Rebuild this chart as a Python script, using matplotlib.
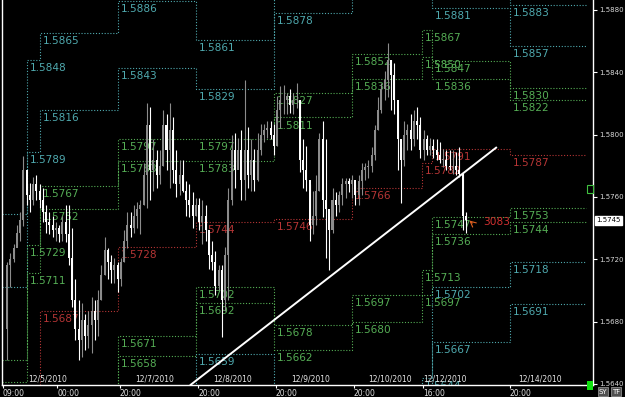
import matplotlib
matplotlib.use("Agg")
import matplotlib.pyplot as plt
import matplotlib.transforms as mtransforms

# ---- hourly candles (GBPUSD-like), left to right ----
first_open = 1.5675
highs = [1.5718, 1.5724, 1.5730, 1.5742, 1.5750, 1.5786, 1.5768, 1.5769, 1.5773, 1.5774,
         1.5768, 1.5766, 1.5755, 1.5750, 1.5748, 1.5744, 1.5742, 1.5748, 1.5755, 1.5755,
         1.5740, 1.5707, 1.5694, 1.5692, 1.5685, 1.5687, 1.5696, 1.5694, 1.5700, 1.5716,
         1.5734, 1.5727, 1.5723, 1.5721, 1.5718, 1.5721, 1.5739, 1.5750, 1.5750, 1.5755,
         1.5757, 1.5758, 1.5782, 1.5820, 1.5818, 1.5797, 1.5790, 1.5790, 1.5816, 1.5813,
         1.5820, 1.5811, 1.5790, 1.5784, 1.5784, 1.5770, 1.5768, 1.5763, 1.5759, 1.5759,
         1.5758, 1.5755, 1.5737, 1.5732, 1.5725, 1.5716, 1.5716, 1.5728, 1.5766, 1.5800,
         1.5801, 1.5798, 1.5803, 1.5835, 1.5805, 1.5797, 1.5791, 1.5801, 1.5807, 1.5807,
         1.5809, 1.5809, 1.5807, 1.5825, 1.5831, 1.5832, 1.5827, 1.5829, 1.5827, 1.5833,
         1.5822, 1.5797, 1.5793, 1.5768, 1.5764, 1.5774, 1.5801, 1.5809, 1.5797, 1.5748,
         1.5766, 1.5763, 1.5764, 1.5772, 1.5772, 1.5772, 1.5774, 1.5768, 1.5774, 1.5782,
         1.5782, 1.5784, 1.5792, 1.5806, 1.5824, 1.5833, 1.5841, 1.5859, 1.5848, 1.5846,
         1.5816, 1.5792, 1.5809, 1.5807, 1.5813, 1.5816, 1.5818, 1.5811, 1.5803, 1.5800,
         1.5798, 1.5797, 1.5797, 1.5795, 1.5791, 1.5790, 1.5790, 1.5790, 1.5789, 1.5792,
         1.5775, 1.5750]
lows = [1.5655, 1.5702, 1.5718, 1.5729, 1.5732, 1.5741, 1.5755, 1.5750, 1.5755, 1.5758,
        1.5753, 1.5744, 1.5737, 1.5736, 1.5734, 1.5732, 1.5731, 1.5732, 1.5731, 1.5716,
        1.5689, 1.5668, 1.5655, 1.5657, 1.5662, 1.5663, 1.5660, 1.5668, 1.5671, 1.5694,
        1.5710, 1.5707, 1.5705, 1.5705, 1.5699, 1.5703, 1.5718, 1.5727, 1.5734, 1.5737,
        1.5740, 1.5736, 1.5755, 1.5753, 1.5758, 1.5764, 1.5766, 1.5768, 1.5780, 1.5777,
        1.5766, 1.5769, 1.5760, 1.5761, 1.5763, 1.5748, 1.5747, 1.5740, 1.5748, 1.5739,
        1.5730, 1.5732, 1.5714, 1.5713, 1.5697, 1.5700, 1.5670, 1.5687, 1.5694, 1.5755,
        1.5766, 1.5784, 1.5758, 1.5758, 1.5766, 1.5764, 1.5764, 1.5770, 1.5787, 1.5795,
        1.5798, 1.5797, 1.5787, 1.5793, 1.5804, 1.5813, 1.5813, 1.5814, 1.5813, 1.5817,
        1.5776, 1.5766, 1.5764, 1.5732, 1.5736, 1.5742, 1.5764, 1.5747, 1.5721, 1.5713,
        1.5737, 1.5748, 1.5750, 1.5755, 1.5759, 1.5763, 1.5759, 1.5755, 1.5755, 1.5761,
        1.5771, 1.5772, 1.5776, 1.5784, 1.5803, 1.5814, 1.5822, 1.5824, 1.5816, 1.5813,
        1.5777, 1.5756, 1.5780, 1.5790, 1.5790, 1.5793, 1.5797, 1.5785, 1.5784, 1.5787,
        1.5787, 1.5785, 1.5784, 1.5782, 1.5779, 1.5777, 1.5777, 1.5775, 1.5774, 1.5773,
        1.5739, 1.5737]
closes = [1.5716, 1.5720, 1.5727, 1.5737, 1.5745, 1.5777, 1.5761, 1.5758, 1.5768, 1.5764,
          1.5758, 1.5750, 1.5744, 1.5742, 1.5739, 1.5740, 1.5736, 1.5744, 1.5736, 1.5721,
          1.5694, 1.5675, 1.5668, 1.5681, 1.5671, 1.5678, 1.5687, 1.5681, 1.5694, 1.5710,
          1.5726, 1.5718, 1.5713, 1.5716, 1.5707, 1.5718, 1.5732, 1.5742, 1.5740, 1.5748,
          1.5752, 1.5755, 1.5774, 1.5806, 1.5777, 1.5784, 1.5774, 1.5780, 1.5806, 1.5790,
          1.5803, 1.5777, 1.5768, 1.5774, 1.5764, 1.5758, 1.5755, 1.5748, 1.5755, 1.5744,
          1.5748, 1.5739, 1.5723, 1.5718, 1.5703, 1.5713, 1.5694, 1.5723, 1.5758, 1.5790,
          1.5777, 1.5790, 1.5771, 1.5790, 1.5774, 1.5784, 1.5771, 1.5790, 1.5800, 1.5803,
          1.5804, 1.5800, 1.5793, 1.5816, 1.5822, 1.5822, 1.5825, 1.5819, 1.5822, 1.5822,
          1.5784, 1.5777, 1.5771, 1.5742, 1.5748, 1.5764, 1.5797, 1.5758, 1.5752, 1.5739,
          1.5758, 1.5755, 1.5761, 1.5768, 1.5770, 1.5768, 1.5771, 1.5761, 1.5770, 1.5777,
          1.5779, 1.5780, 1.5787, 1.5803, 1.5816, 1.5829, 1.5835, 1.5848, 1.5838, 1.5822,
          1.5797, 1.5784, 1.5800, 1.5803, 1.5797, 1.5809, 1.5806, 1.5790, 1.5797, 1.5790,
          1.5793, 1.5790, 1.5787, 1.5784, 1.5784, 1.5780, 1.5779, 1.5780, 1.5777, 1.5775,
          1.5748, 1.5745]

# ---- daily pivot bands: segment edges (in bar index) and 9 levels per segment ----
day_edges = [-1.54, 6.1, 10.1, 34.1, 58.1, 82.0, 106.0, 127.5, 130.6, 154.5, 177.9]
c2_up = [1.5749, 1.5848, 1.5865, 1.5886, 1.5861, 1.5910, 1.5960, 1.5940, 1.5915, 1.5883]
c1_up = [1.5702, 1.5789, 1.5816, 1.5843, 1.5829, 1.5878, 1.5904, 1.5892, 1.5881, 1.5857]
g2_up = [1.5655, 1.5729, 1.5767, 1.5797, 1.5797, 1.5827, 1.5852, 1.5867, 1.5847, 1.5830]
g1_up = [1.5641, 1.5711, 1.5752, 1.5783, 1.5783, 1.5811, 1.5836, 1.5850, 1.5836, 1.5822]
pivot = [1.5580, 1.5632, 1.5687, 1.5728, 1.5744, 1.5746, 1.5766, 1.5782, 1.5791, 1.5787]
g1_dn = [1.5519, 1.5553, 1.5622, 1.5671, 1.5702, 1.5678, 1.5697, 1.5713, 1.5747, 1.5753]
g2_dn = [1.5505, 1.5535, 1.5607, 1.5658, 1.5692, 1.5662, 1.5680, 1.5697, 1.5736, 1.5744]
c1_dn = [1.5458, 1.5475, 1.5558, 1.5613, 1.5659, 1.5614, 1.5628, 1.5644, 1.5702, 1.5718]
c2_dn = [1.5411, 1.5416, 1.5509, 1.5570, 1.5627, 1.5580, 1.5572, 1.5600, 1.5667, 1.5691]

# trend line drawn on the chart
trend_x = [56.2, 150.5]
trend_y = [1.5639, 1.5792]

price_ticks = [1.5640, 1.5680, 1.5720, 1.5760, 1.5800, 1.5840, 1.5880]
time_ticks = [-1.3, 15.4, 34.7, 58.7, 82.6, 106.6, 127.8, 154.5]
time_labels = ['09:00', '00:00', '20:00', '20:00', '20:00', '20:00', '16:00', '20:00']
date_pos = [6.45, 39.3, 63.3, 87.2, 110.9, 127.8, 157.0]
date_labels = ['12/5/2010', '12/7/2010', '12/8/2010', '12/9/2010', '12/10/2010',
               '12/12/2010', '12/14/2010']
last_price = 1.5745

CYAN = '#4fa9ae'
GREEN = '#55ad55'
RED = '#b53535'

fig = plt.figure(figsize=(6.25, 3.97), dpi=100, facecolor='black')
ax = fig.add_axes([2 / 625, 12 / 397, 591 / 625, 385 / 397], facecolor='black')
ax.set_xlim(-1.54, 180.03)
ax.set_ylim(1.563923, 1.588642)

levels = [(c2_up, CYAN), (c1_up, CYAN), (g2_up, GREEN), (g1_up, GREEN), (pivot, RED),
          (g1_dn, GREEN), (g2_dn, GREEN), (c1_dn, CYAN), (c2_dn, CYAN)]
ylo, yhi = ax.get_ylim()
for vals, col in levels:
    ax.plot(day_edges, vals + [vals[-1]], drawstyle='steps-post', color=col,
            lw=0.8, ls=(0, (1, 1.6)), zorder=1)
    for i in range(1, len(vals)):
        v = vals[i]
        if ylo + 0.0004 < v < yhi:
            ax.annotate(f'{v:.4f}', xy=(day_edges[i], v), xytext=(2, -2.2),
                        textcoords='offset points', ha='left', va='top',
                        color=col, fontsize=7.6, zorder=2, annotation_clip=True,
                        clip_on=True)

# candles
opens = [first_open] + closes[:-1]
xs = list(range(len(closes)))
cols = ['white' if c < o else '#8c8c8c' for o, c in zip(opens, closes)]
ax.vlines(xs, lows, highs, colors=cols, lw=0.8, zorder=3)
bottoms = [min(o, c) for o, c in zip(opens, closes)]
heights = [max(abs(c - o), 0.00005) for o, c in zip(opens, closes)]
ax.bar(xs, heights, bottom=bottoms, width=0.62, color=cols, lw=0, zorder=3)

ax.plot(trend_x, trend_y, color='white', lw=1.4, zorder=4, solid_capstyle='butt')

# spread / bar timer text and marker near last bar
ax.text(146.2, 1.5744, '3083', color='#d03030', fontsize=7.6, va='center', ha='left', zorder=5)
ax.annotate('', xy=(len(closes) - 0.6, last_price + 0.0001),
            xytext=(len(closes) + 1.6, last_price - 0.0003),
            arrowprops=dict(arrowstyle='->', color='#e06020', lw=0.8), zorder=5)

# axes styling
for s in ['left', 'bottom', 'right']:
    ax.spines[s].set_color('white')
    ax.spines[s].set_linewidth(1)
ax.spines['top'].set_visible(False)
ax.yaxis.tick_right()
ax.set_yticks(price_ticks)
ax.set_yticklabels([f'{p:.4f}' for p in price_ticks])
ax.tick_params(axis='y', colors='white', labelcolor='#d8d8d8', labelsize=5,
               length=3, width=0.8, pad=1.5)
ax.set_xticks(time_ticks)
ax.set_xticklabels(time_labels)
for lab in ax.get_xticklabels():
    lab.set_horizontalalignment('left')
ax.tick_params(axis='x', colors='white', labelcolor='#e0e0e0', labelsize=5.5,
               length=2, width=0.8, pad=1)

trans = mtransforms.blended_transform_factory(ax.transData, ax.transAxes)
for xp, lab in zip(date_pos, date_labels):
    ax.text(xp, 0.004, lab, transform=trans, color='#e8e8e8', fontsize=5.5,
            ha='left', va='bottom', zorder=6)

# current price box on the price scale
ax.annotate(f'{last_price:.4f}', xy=(1.0, last_price), xycoords=('axes fraction', 'data'),
            xytext=(2.2, 0), textcoords='offset points', ha='left', va='center',
            fontsize=5, color='black', annotation_clip=False,
            bbox=dict(boxstyle='square,pad=0.2', fc='white', ec='white'))

# small terminal widgets at the right edge
fig.patches.append(plt.Rectangle((587 / 625, 1 - 390 / 397), 6 / 625, 9 / 397,
                                 transform=fig.transFigure, fc='#10e010', ec='none'))
fig.patches.append(plt.Rectangle((587 / 625, 1 - 193 / 397), 6 / 625, 8 / 397,
                                 transform=fig.transFigure, fc='black', ec='#40c040', lw=0.8))
fig.text(603 / 625, 2.5 / 397, 'SY', color='white', fontsize=5, ha='center', va='bottom',
         bbox=dict(boxstyle='square,pad=0.15', fc='#505050', ec='#a0a0a0', lw=0.5))
fig.text(616 / 625, 2.5 / 397, 'TF', color='white', fontsize=5, ha='center', va='bottom',
         bbox=dict(boxstyle='square,pad=0.15', fc='#505050', ec='#a0a0a0', lw=0.5))

fig.savefig('out.png', dpi=100, facecolor='black')
